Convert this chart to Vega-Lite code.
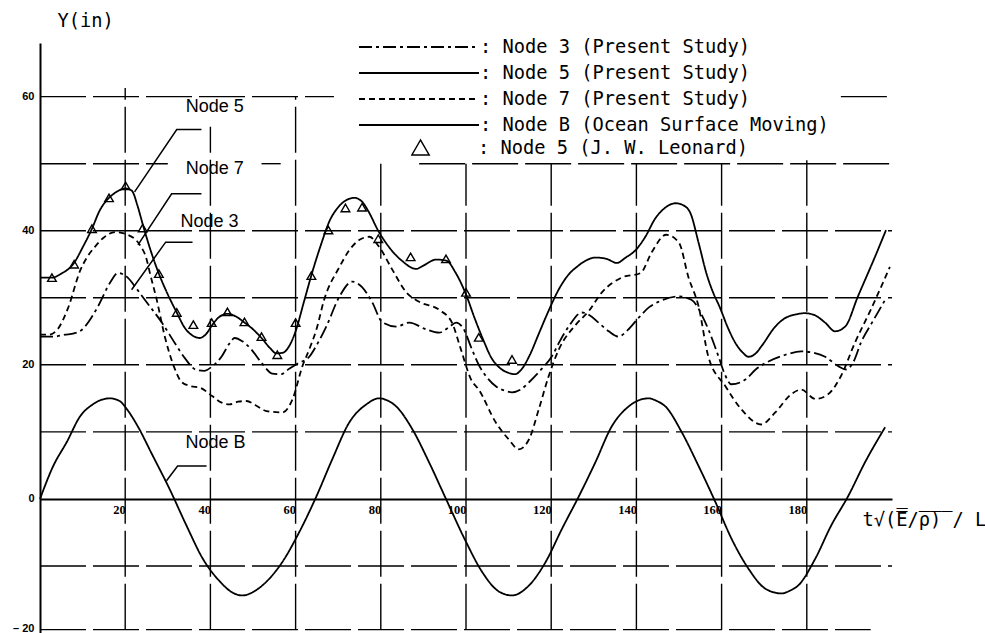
{
  "$schema": "https://vega.github.io/schema/vega-lite/v6.json",
  "width": 852,
  "height": 590,
  "autosize": {"type": "none"},
  "padding": {"left": 40, "top": 43, "right": 93, "bottom": 0},
  "background": "white",
  "config": {"view": {"stroke": null}, "axis": {"labelColor": "black", "titleColor": "black"}},
  "datasets": {
    "hgrid": [
      {"y": 60, "x": 0, "x2": 69},
      {"y": 60, "x": 188, "x2": 200},
      {"y": 50, "x": 0, "x2": 30},
      {"y": 50, "x": 52, "x2": 56.5},
      {"y": 50, "x": 89, "x2": 200},
      {"y": 40, "x": 0, "x2": 200},
      {"y": 30, "x": 0, "x2": 200},
      {"y": 20, "x": 0, "x2": 200},
      {"y": 10, "x": 0, "x2": 200},
      {"y": -10, "x": 0, "x2": 200},
      {"y": -19.5, "x": 0, "x2": 195}
    ],
    "vgrid": [
      {"x": 20, "y": -19.5, "y2": 61.3},
      {"x": 40, "y": -19.5, "y2": 55.5},
      {"x": 60, "y": -19.5, "y2": 60},
      {"x": 80, "y": -19.5, "y2": 50},
      {"x": 100, "y": -19.5, "y2": 50},
      {"x": 120, "y": -19.5, "y2": 50},
      {"x": 140, "y": -19.5, "y2": 50},
      {"x": 160, "y": -19.5, "y2": 50},
      {"x": 180, "y": -19.5, "y2": 50.5}
    ],
    "curves": [
      {"series": "Node 3 (Present Study)", "x": 0, "y": 24.2},
      {"series": "Node 3 (Present Study)", "x": 3, "y": 24.2},
      {"series": "Node 3 (Present Study)", "x": 5.9, "y": 24.5},
      {"series": "Node 3 (Present Study)", "x": 8, "y": 24.7},
      {"series": "Node 3 (Present Study)", "x": 9.8, "y": 25.2},
      {"series": "Node 3 (Present Study)", "x": 11.5, "y": 26.5},
      {"series": "Node 3 (Present Study)", "x": 13.6, "y": 28.7},
      {"series": "Node 3 (Present Study)", "x": 16.4, "y": 32.2},
      {"series": "Node 3 (Present Study)", "x": 18.3, "y": 33.7},
      {"series": "Node 3 (Present Study)", "x": 20.6, "y": 33},
      {"series": "Node 3 (Present Study)", "x": 22.5, "y": 31.5},
      {"series": "Node 3 (Present Study)", "x": 24.6, "y": 29.7},
      {"series": "Node 3 (Present Study)", "x": 28.6, "y": 26.3},
      {"series": "Node 3 (Present Study)", "x": 31.6, "y": 23.3},
      {"series": "Node 3 (Present Study)", "x": 34, "y": 21},
      {"series": "Node 3 (Present Study)", "x": 36.5, "y": 19.3},
      {"series": "Node 3 (Present Study)", "x": 38.5, "y": 19.1},
      {"series": "Node 3 (Present Study)", "x": 40.5, "y": 19.8},
      {"series": "Node 3 (Present Study)", "x": 42.6, "y": 21.2},
      {"series": "Node 3 (Present Study)", "x": 44.5, "y": 23.2},
      {"series": "Node 3 (Present Study)", "x": 45.7, "y": 24},
      {"series": "Node 3 (Present Study)", "x": 47.5, "y": 23.5},
      {"series": "Node 3 (Present Study)", "x": 49.6, "y": 22.3},
      {"series": "Node 3 (Present Study)", "x": 52, "y": 20.3},
      {"series": "Node 3 (Present Study)", "x": 54.5, "y": 18.7},
      {"series": "Node 3 (Present Study)", "x": 56.5, "y": 18.6},
      {"series": "Node 3 (Present Study)", "x": 58.5, "y": 19.4},
      {"series": "Node 3 (Present Study)", "x": 60.5, "y": 20.2},
      {"series": "Node 3 (Present Study)", "x": 63.2, "y": 21.2},
      {"series": "Node 3 (Present Study)", "x": 65, "y": 23},
      {"series": "Node 3 (Present Study)", "x": 67.2, "y": 25.7},
      {"series": "Node 3 (Present Study)", "x": 70.3, "y": 30.2},
      {"series": "Node 3 (Present Study)", "x": 73.3, "y": 32.4},
      {"series": "Node 3 (Present Study)", "x": 75.6, "y": 31.6},
      {"series": "Node 3 (Present Study)", "x": 78, "y": 29.3},
      {"series": "Node 3 (Present Study)", "x": 80.3, "y": 26.4},
      {"series": "Node 3 (Present Study)", "x": 83.6, "y": 25.7},
      {"series": "Node 3 (Present Study)", "x": 86.7, "y": 26.3},
      {"series": "Node 3 (Present Study)", "x": 90.6, "y": 25.3},
      {"series": "Node 3 (Present Study)", "x": 93.7, "y": 24.8},
      {"series": "Node 3 (Present Study)", "x": 96, "y": 25.6},
      {"series": "Node 3 (Present Study)", "x": 97.7, "y": 26.3},
      {"series": "Node 3 (Present Study)", "x": 99.3, "y": 25.5},
      {"series": "Node 3 (Present Study)", "x": 101.4, "y": 22.3},
      {"series": "Node 3 (Present Study)", "x": 103, "y": 20},
      {"series": "Node 3 (Present Study)", "x": 104.7, "y": 18.3},
      {"series": "Node 3 (Present Study)", "x": 107, "y": 16.8},
      {"series": "Node 3 (Present Study)", "x": 109.4, "y": 16.1},
      {"series": "Node 3 (Present Study)", "x": 110.8, "y": 15.9},
      {"series": "Node 3 (Present Study)", "x": 112.8, "y": 16.3},
      {"series": "Node 3 (Present Study)", "x": 114.8, "y": 17.4},
      {"series": "Node 3 (Present Study)", "x": 117.5, "y": 19.2},
      {"series": "Node 3 (Present Study)", "x": 120.1, "y": 21.2},
      {"series": "Node 3 (Present Study)", "x": 122, "y": 23.5},
      {"series": "Node 3 (Present Study)", "x": 124.1, "y": 25.7},
      {"series": "Node 3 (Present Study)", "x": 127.2, "y": 27.8},
      {"series": "Node 3 (Present Study)", "x": 129, "y": 27.4},
      {"series": "Node 3 (Present Study)", "x": 131.1, "y": 26.3},
      {"series": "Node 3 (Present Study)", "x": 133.5, "y": 25},
      {"series": "Node 3 (Present Study)", "x": 135.8, "y": 24.2},
      {"series": "Node 3 (Present Study)", "x": 138, "y": 25.2},
      {"series": "Node 3 (Present Study)", "x": 140.5, "y": 27},
      {"series": "Node 3 (Present Study)", "x": 143, "y": 28.6},
      {"series": "Node 3 (Present Study)", "x": 145.2, "y": 29.4},
      {"series": "Node 3 (Present Study)", "x": 149.9, "y": 30.2},
      {"series": "Node 3 (Present Study)", "x": 152.9, "y": 29.7},
      {"series": "Node 3 (Present Study)", "x": 156.2, "y": 26.3},
      {"series": "Node 3 (Present Study)", "x": 159.3, "y": 21.2},
      {"series": "Node 3 (Present Study)", "x": 160.8, "y": 18.5},
      {"series": "Node 3 (Present Study)", "x": 162.3, "y": 17.1},
      {"series": "Node 3 (Present Study)", "x": 165.6, "y": 17.8},
      {"series": "Node 3 (Present Study)", "x": 168, "y": 19.3},
      {"series": "Node 3 (Present Study)", "x": 171, "y": 20.5},
      {"series": "Node 3 (Present Study)", "x": 175, "y": 21.5},
      {"series": "Node 3 (Present Study)", "x": 178.7, "y": 22},
      {"series": "Node 3 (Present Study)", "x": 181.5, "y": 21.8},
      {"series": "Node 3 (Present Study)", "x": 184.3, "y": 21.2},
      {"series": "Node 3 (Present Study)", "x": 187.4, "y": 19.8},
      {"series": "Node 3 (Present Study)", "x": 189.2, "y": 19.3},
      {"series": "Node 3 (Present Study)", "x": 191, "y": 20.5},
      {"series": "Node 3 (Present Study)", "x": 192.7, "y": 23.3},
      {"series": "Node 3 (Present Study)", "x": 195.5, "y": 26.5},
      {"series": "Node 3 (Present Study)", "x": 198.4, "y": 29.7},

      {"series": "Node 5 (Present Study)", "x": 0, "y": 33},
      {"series": "Node 5 (Present Study)", "x": 2.8, "y": 33},
      {"series": "Node 5 (Present Study)", "x": 5, "y": 33.6},
      {"series": "Node 5 (Present Study)", "x": 8, "y": 35.2},
      {"series": "Node 5 (Present Study)", "x": 10, "y": 37.5},
      {"series": "Node 5 (Present Study)", "x": 12.2, "y": 40.3},
      {"series": "Node 5 (Present Study)", "x": 14, "y": 43},
      {"series": "Node 5 (Present Study)", "x": 16.2, "y": 44.9},
      {"series": "Node 5 (Present Study)", "x": 18, "y": 45.8},
      {"series": "Node 5 (Present Study)", "x": 20, "y": 46.3},
      {"series": "Node 5 (Present Study)", "x": 21.5, "y": 46},
      {"series": "Node 5 (Present Study)", "x": 23, "y": 43.5},
      {"series": "Node 5 (Present Study)", "x": 24.1, "y": 41},
      {"series": "Node 5 (Present Study)", "x": 26, "y": 37},
      {"series": "Node 5 (Present Study)", "x": 27.9, "y": 33.6},
      {"series": "Node 5 (Present Study)", "x": 30, "y": 30.5},
      {"series": "Node 5 (Present Study)", "x": 32.1, "y": 27.8},
      {"series": "Node 5 (Present Study)", "x": 34, "y": 25.5},
      {"series": "Node 5 (Present Study)", "x": 36, "y": 24.3},
      {"series": "Node 5 (Present Study)", "x": 37.5, "y": 24},
      {"series": "Node 5 (Present Study)", "x": 39, "y": 24.6},
      {"series": "Node 5 (Present Study)", "x": 40.5, "y": 26},
      {"series": "Node 5 (Present Study)", "x": 42, "y": 27.1},
      {"series": "Node 5 (Present Study)", "x": 44, "y": 27.6},
      {"series": "Node 5 (Present Study)", "x": 46, "y": 27.2},
      {"series": "Node 5 (Present Study)", "x": 48, "y": 26.3},
      {"series": "Node 5 (Present Study)", "x": 50, "y": 25.3},
      {"series": "Node 5 (Present Study)", "x": 52, "y": 24},
      {"series": "Node 5 (Present Study)", "x": 54, "y": 22.5},
      {"series": "Node 5 (Present Study)", "x": 55.5, "y": 21.7},
      {"series": "Node 5 (Present Study)", "x": 57, "y": 21.8},
      {"series": "Node 5 (Present Study)", "x": 58.5, "y": 22.8},
      {"series": "Node 5 (Present Study)", "x": 60, "y": 25},
      {"series": "Node 5 (Present Study)", "x": 62, "y": 29.5},
      {"series": "Node 5 (Present Study)", "x": 64, "y": 34},
      {"series": "Node 5 (Present Study)", "x": 66, "y": 38},
      {"series": "Node 5 (Present Study)", "x": 68, "y": 41.5},
      {"series": "Node 5 (Present Study)", "x": 70, "y": 43.5},
      {"series": "Node 5 (Present Study)", "x": 72, "y": 44.6},
      {"series": "Node 5 (Present Study)", "x": 73.8, "y": 44.9},
      {"series": "Node 5 (Present Study)", "x": 75.5, "y": 44.4},
      {"series": "Node 5 (Present Study)", "x": 77, "y": 43},
      {"series": "Node 5 (Present Study)", "x": 79.4, "y": 40},
      {"series": "Node 5 (Present Study)", "x": 82, "y": 37.5},
      {"series": "Node 5 (Present Study)", "x": 85, "y": 35.5},
      {"series": "Node 5 (Present Study)", "x": 88.3, "y": 34.3},
      {"series": "Node 5 (Present Study)", "x": 90, "y": 34.8},
      {"series": "Node 5 (Present Study)", "x": 93, "y": 35.7},
      {"series": "Node 5 (Present Study)", "x": 95.5, "y": 35.5},
      {"series": "Node 5 (Present Study)", "x": 97.5, "y": 33.8},
      {"series": "Node 5 (Present Study)", "x": 100, "y": 30.5},
      {"series": "Node 5 (Present Study)", "x": 102, "y": 27},
      {"series": "Node 5 (Present Study)", "x": 104, "y": 23.8},
      {"series": "Node 5 (Present Study)", "x": 106, "y": 21},
      {"series": "Node 5 (Present Study)", "x": 108, "y": 19.5},
      {"series": "Node 5 (Present Study)", "x": 110, "y": 18.8},
      {"series": "Node 5 (Present Study)", "x": 111.5, "y": 18.6},
      {"series": "Node 5 (Present Study)", "x": 113, "y": 19.3},
      {"series": "Node 5 (Present Study)", "x": 115, "y": 21.5},
      {"series": "Node 5 (Present Study)", "x": 117, "y": 24.5},
      {"series": "Node 5 (Present Study)", "x": 119, "y": 27.5},
      {"series": "Node 5 (Present Study)", "x": 122, "y": 31.5},
      {"series": "Node 5 (Present Study)", "x": 124, "y": 33.4},
      {"series": "Node 5 (Present Study)", "x": 126, "y": 34.6},
      {"series": "Node 5 (Present Study)", "x": 128, "y": 35.5},
      {"series": "Node 5 (Present Study)", "x": 130.4, "y": 36},
      {"series": "Node 5 (Present Study)", "x": 133, "y": 35.8},
      {"series": "Node 5 (Present Study)", "x": 135.4, "y": 35.2},
      {"series": "Node 5 (Present Study)", "x": 137.5, "y": 36},
      {"series": "Node 5 (Present Study)", "x": 139.8, "y": 37.1},
      {"series": "Node 5 (Present Study)", "x": 142, "y": 39},
      {"series": "Node 5 (Present Study)", "x": 144.5, "y": 41.9},
      {"series": "Node 5 (Present Study)", "x": 146.5, "y": 43.3},
      {"series": "Node 5 (Present Study)", "x": 149.2, "y": 44.1},
      {"series": "Node 5 (Present Study)", "x": 151, "y": 43.8},
      {"series": "Node 5 (Present Study)", "x": 152.7, "y": 42.6},
      {"series": "Node 5 (Present Study)", "x": 154.6, "y": 38.2},
      {"series": "Node 5 (Present Study)", "x": 156.5, "y": 33.5},
      {"series": "Node 5 (Present Study)", "x": 158, "y": 30.8},
      {"series": "Node 5 (Present Study)", "x": 159.5, "y": 28.7},
      {"series": "Node 5 (Present Study)", "x": 161.5, "y": 25.5},
      {"series": "Node 5 (Present Study)", "x": 163.2, "y": 23.3},
      {"series": "Node 5 (Present Study)", "x": 165, "y": 21.8},
      {"series": "Node 5 (Present Study)", "x": 166.3, "y": 21.2},
      {"series": "Node 5 (Present Study)", "x": 168, "y": 21.7},
      {"series": "Node 5 (Present Study)", "x": 169.5, "y": 22.9},
      {"series": "Node 5 (Present Study)", "x": 172.6, "y": 25.7},
      {"series": "Node 5 (Present Study)", "x": 175, "y": 27},
      {"series": "Node 5 (Present Study)", "x": 177.3, "y": 27.5},
      {"series": "Node 5 (Present Study)", "x": 179.5, "y": 27.7},
      {"series": "Node 5 (Present Study)", "x": 181.5, "y": 27.5},
      {"series": "Node 5 (Present Study)", "x": 184.3, "y": 26.3},
      {"series": "Node 5 (Present Study)", "x": 186.6, "y": 25},
      {"series": "Node 5 (Present Study)", "x": 189, "y": 25.7},
      {"series": "Node 5 (Present Study)", "x": 192, "y": 30.2},
      {"series": "Node 5 (Present Study)", "x": 196, "y": 36.1},
      {"series": "Node 5 (Present Study)", "x": 198.6, "y": 40.1},

      {"series": "Node 7 (Present Study)", "x": 0, "y": 24.5},
      {"series": "Node 7 (Present Study)", "x": 2, "y": 24.5},
      {"series": "Node 7 (Present Study)", "x": 4, "y": 25.2},
      {"series": "Node 7 (Present Study)", "x": 6.6, "y": 28.5},
      {"series": "Node 7 (Present Study)", "x": 9.4, "y": 34},
      {"series": "Node 7 (Present Study)", "x": 11, "y": 36},
      {"series": "Node 7 (Present Study)", "x": 12.9, "y": 37.6},
      {"series": "Node 7 (Present Study)", "x": 15, "y": 39},
      {"series": "Node 7 (Present Study)", "x": 17.6, "y": 39.8},
      {"series": "Node 7 (Present Study)", "x": 20.6, "y": 39.4},
      {"series": "Node 7 (Present Study)", "x": 23.4, "y": 37.9},
      {"series": "Node 7 (Present Study)", "x": 25, "y": 35.8},
      {"series": "Node 7 (Present Study)", "x": 25.8, "y": 33.7},
      {"series": "Node 7 (Present Study)", "x": 27.4, "y": 29.7},
      {"series": "Node 7 (Present Study)", "x": 29.3, "y": 24.2},
      {"series": "Node 7 (Present Study)", "x": 31.4, "y": 19.8},
      {"series": "Node 7 (Present Study)", "x": 33.3, "y": 17.4},
      {"series": "Node 7 (Present Study)", "x": 35.5, "y": 16.8},
      {"series": "Node 7 (Present Study)", "x": 37.5, "y": 16.6},
      {"series": "Node 7 (Present Study)", "x": 40.5, "y": 15.3},
      {"series": "Node 7 (Present Study)", "x": 42.5, "y": 14.4},
      {"series": "Node 7 (Present Study)", "x": 44.5, "y": 14.1},
      {"series": "Node 7 (Present Study)", "x": 46.5, "y": 14.5},
      {"series": "Node 7 (Present Study)", "x": 48.5, "y": 14.6},
      {"series": "Node 7 (Present Study)", "x": 50.5, "y": 14},
      {"series": "Node 7 (Present Study)", "x": 53.2, "y": 13.1},
      {"series": "Node 7 (Present Study)", "x": 56.9, "y": 12.9},
      {"series": "Node 7 (Present Study)", "x": 59.3, "y": 14.9},
      {"series": "Node 7 (Present Study)", "x": 61.6, "y": 19.8},
      {"series": "Node 7 (Present Study)", "x": 63.2, "y": 22.3},
      {"series": "Node 7 (Present Study)", "x": 64.9, "y": 25.3},
      {"series": "Node 7 (Present Study)", "x": 66.7, "y": 29.7},
      {"series": "Node 7 (Present Study)", "x": 70.3, "y": 34.6},
      {"series": "Node 7 (Present Study)", "x": 72.5, "y": 37},
      {"series": "Node 7 (Present Study)", "x": 74.9, "y": 38.6},
      {"series": "Node 7 (Present Study)", "x": 77.3, "y": 39.1},
      {"series": "Node 7 (Present Study)", "x": 79.6, "y": 37.6},
      {"series": "Node 7 (Present Study)", "x": 82.7, "y": 34.2},
      {"series": "Node 7 (Present Study)", "x": 86, "y": 30.8},
      {"series": "Node 7 (Present Study)", "x": 89, "y": 29.4},
      {"series": "Node 7 (Present Study)", "x": 93.7, "y": 28.2},
      {"series": "Node 7 (Present Study)", "x": 96.7, "y": 26.3},
      {"series": "Node 7 (Present Study)", "x": 98.8, "y": 22.3},
      {"series": "Node 7 (Present Study)", "x": 101.2, "y": 17.8},
      {"series": "Node 7 (Present Study)", "x": 103, "y": 16.3},
      {"series": "Node 7 (Present Study)", "x": 107, "y": 11.4},
      {"series": "Node 7 (Present Study)", "x": 110, "y": 8.9},
      {"series": "Node 7 (Present Study)", "x": 112.4, "y": 7.4},
      {"series": "Node 7 (Present Study)", "x": 114.8, "y": 8.9},
      {"series": "Node 7 (Present Study)", "x": 117.1, "y": 13.4},
      {"series": "Node 7 (Present Study)", "x": 119.4, "y": 18.3},
      {"series": "Node 7 (Present Study)", "x": 121.8, "y": 22.3},
      {"series": "Node 7 (Present Study)", "x": 125.8, "y": 26},
      {"series": "Node 7 (Present Study)", "x": 128.8, "y": 28},
      {"series": "Node 7 (Present Study)", "x": 131.9, "y": 30.8},
      {"series": "Node 7 (Present Study)", "x": 136.5, "y": 33},
      {"series": "Node 7 (Present Study)", "x": 141, "y": 33.7},
      {"series": "Node 7 (Present Study)", "x": 143.6, "y": 36.8},
      {"series": "Node 7 (Present Study)", "x": 147, "y": 39.4},
      {"series": "Node 7 (Present Study)", "x": 150, "y": 38.2},
      {"series": "Node 7 (Present Study)", "x": 152.2, "y": 33.1},
      {"series": "Node 7 (Present Study)", "x": 154.6, "y": 28.7},
      {"series": "Node 7 (Present Study)", "x": 156.9, "y": 21.2},
      {"series": "Node 7 (Present Study)", "x": 160.9, "y": 16.8},
      {"series": "Node 7 (Present Study)", "x": 164.6, "y": 13.4},
      {"series": "Node 7 (Present Study)", "x": 169.3, "y": 11.1},
      {"series": "Node 7 (Present Study)", "x": 172.6, "y": 12.9},
      {"series": "Node 7 (Present Study)", "x": 176.3, "y": 15.6},
      {"series": "Node 7 (Present Study)", "x": 178.7, "y": 16.3},
      {"series": "Node 7 (Present Study)", "x": 182, "y": 14.9},
      {"series": "Node 7 (Present Study)", "x": 185, "y": 15.6},
      {"series": "Node 7 (Present Study)", "x": 188, "y": 18.3},
      {"series": "Node 7 (Present Study)", "x": 191.3, "y": 23.3},
      {"series": "Node 7 (Present Study)", "x": 195, "y": 28.2},
      {"series": "Node 7 (Present Study)", "x": 199.5, "y": 34.6},

      {"series": "Node B (Ocean Surface Moving)", "x": 0, "y": 0},
      {"series": "Node B (Ocean Surface Moving)", "x": 3.1, "y": 4.9},
      {"series": "Node B (Ocean Surface Moving)", "x": 6.3, "y": 8.5},
      {"series": "Node B (Ocean Surface Moving)", "x": 9.4, "y": 12.3},
      {"series": "Node B (Ocean Surface Moving)", "x": 12.4, "y": 14.1},
      {"series": "Node B (Ocean Surface Moving)", "x": 14.5, "y": 14.8},
      {"series": "Node B (Ocean Surface Moving)", "x": 16.4, "y": 15},
      {"series": "Node B (Ocean Surface Moving)", "x": 18.7, "y": 14.6},
      {"series": "Node B (Ocean Surface Moving)", "x": 20.5, "y": 13.3},
      {"series": "Node B (Ocean Surface Moving)", "x": 22.7, "y": 11.1},
      {"series": "Node B (Ocean Surface Moving)", "x": 26.5, "y": 6.4},
      {"series": "Node B (Ocean Surface Moving)", "x": 30.4, "y": 1.5},
      {"series": "Node B (Ocean Surface Moving)", "x": 34.4, "y": -4},
      {"series": "Node B (Ocean Surface Moving)", "x": 38.2, "y": -8.9},
      {"series": "Node B (Ocean Surface Moving)", "x": 42.2, "y": -12.3},
      {"series": "Node B (Ocean Surface Moving)", "x": 45, "y": -13.9},
      {"series": "Node B (Ocean Surface Moving)", "x": 47.5, "y": -14.4},
      {"series": "Node B (Ocean Surface Moving)", "x": 50, "y": -13.9},
      {"series": "Node B (Ocean Surface Moving)", "x": 52.2, "y": -12.9},
      {"series": "Node B (Ocean Surface Moving)", "x": 56.9, "y": -9.4},
      {"series": "Node B (Ocean Surface Moving)", "x": 60.9, "y": -4.9},
      {"series": "Node B (Ocean Surface Moving)", "x": 64.9, "y": 0.4},
      {"series": "Node B (Ocean Surface Moving)", "x": 68.6, "y": 5.9},
      {"series": "Node B (Ocean Surface Moving)", "x": 72.6, "y": 11.4},
      {"series": "Node B (Ocean Surface Moving)", "x": 76.6, "y": 14.1},
      {"series": "Node B (Ocean Surface Moving)", "x": 79.6, "y": 15},
      {"series": "Node B (Ocean Surface Moving)", "x": 81.5, "y": 14.7},
      {"series": "Node B (Ocean Surface Moving)", "x": 83.6, "y": 13.8},
      {"series": "Node B (Ocean Surface Moving)", "x": 87.4, "y": 10.4},
      {"series": "Node B (Ocean Surface Moving)", "x": 91.3, "y": 5.5},
      {"series": "Node B (Ocean Surface Moving)", "x": 95.3, "y": 0},
      {"series": "Node B (Ocean Surface Moving)", "x": 100, "y": -6.4},
      {"series": "Node B (Ocean Surface Moving)", "x": 103.7, "y": -10.8},
      {"series": "Node B (Ocean Surface Moving)", "x": 107.7, "y": -13.8},
      {"series": "Node B (Ocean Surface Moving)", "x": 110.8, "y": -14.4},
      {"series": "Node B (Ocean Surface Moving)", "x": 114.8, "y": -12.9},
      {"series": "Node B (Ocean Surface Moving)", "x": 118.7, "y": -9.4},
      {"series": "Node B (Ocean Surface Moving)", "x": 122.5, "y": -4.5},
      {"series": "Node B (Ocean Surface Moving)", "x": 126.5, "y": 0.4},
      {"series": "Node B (Ocean Surface Moving)", "x": 130.4, "y": 5.5},
      {"series": "Node B (Ocean Surface Moving)", "x": 134.2, "y": 10.8},
      {"series": "Node B (Ocean Surface Moving)", "x": 138.2, "y": 13.8},
      {"series": "Node B (Ocean Surface Moving)", "x": 140.5, "y": 14.7},
      {"series": "Node B (Ocean Surface Moving)", "x": 142.9, "y": 15},
      {"series": "Node B (Ocean Surface Moving)", "x": 144.8, "y": 14.6},
      {"series": "Node B (Ocean Surface Moving)", "x": 146.8, "y": 13.8},
      {"series": "Node B (Ocean Surface Moving)", "x": 150.6, "y": 10},
      {"series": "Node B (Ocean Surface Moving)", "x": 154.6, "y": 4.9},
      {"series": "Node B (Ocean Surface Moving)", "x": 158.5, "y": -0.4},
      {"series": "Node B (Ocean Surface Moving)", "x": 162.3, "y": -5.9},
      {"series": "Node B (Ocean Surface Moving)", "x": 166.3, "y": -10.4},
      {"series": "Node B (Ocean Surface Moving)", "x": 170.3, "y": -13.4},
      {"series": "Node B (Ocean Surface Moving)", "x": 174, "y": -14.1},
      {"series": "Node B (Ocean Surface Moving)", "x": 176, "y": -13.7},
      {"series": "Node B (Ocean Surface Moving)", "x": 178, "y": -12.9},
      {"series": "Node B (Ocean Surface Moving)", "x": 182, "y": -8.9},
      {"series": "Node B (Ocean Surface Moving)", "x": 185.7, "y": -4},
      {"series": "Node B (Ocean Surface Moving)", "x": 189.7, "y": 0.4},
      {"series": "Node B (Ocean Surface Moving)", "x": 193.7, "y": 5.5},
      {"series": "Node B (Ocean Surface Moving)", "x": 198.4, "y": 10.7}
    ],
    "leonard": [
      {"src": "Node 5 (J. W. Leonard)", "x": 2.8, "y": 33},
      {"src": "Node 5 (J. W. Leonard)", "x": 8, "y": 35},
      {"src": "Node 5 (J. W. Leonard)", "x": 12.2, "y": 40.3},
      {"src": "Node 5 (J. W. Leonard)", "x": 16.2, "y": 44.9},
      {"src": "Node 5 (J. W. Leonard)", "x": 20.1, "y": 46.7},
      {"src": "Node 5 (J. W. Leonard)", "x": 24.1, "y": 40.4},
      {"src": "Node 5 (J. W. Leonard)", "x": 27.9, "y": 33.6},
      {"src": "Node 5 (J. W. Leonard)", "x": 32.1, "y": 27.8},
      {"src": "Node 5 (J. W. Leonard)", "x": 36, "y": 26},
      {"src": "Node 5 (J. W. Leonard)", "x": 40.3, "y": 26.3},
      {"src": "Node 5 (J. W. Leonard)", "x": 44, "y": 27.9},
      {"src": "Node 5 (J. W. Leonard)", "x": 48, "y": 26.4},
      {"src": "Node 5 (J. W. Leonard)", "x": 52, "y": 24.2},
      {"src": "Node 5 (J. W. Leonard)", "x": 55.7, "y": 21.5},
      {"src": "Node 5 (J. W. Leonard)", "x": 60, "y": 26.3},
      {"src": "Node 5 (J. W. Leonard)", "x": 63.7, "y": 33.3},
      {"src": "Node 5 (J. W. Leonard)", "x": 67.7, "y": 40.1},
      {"src": "Node 5 (J. W. Leonard)", "x": 71.7, "y": 43.4},
      {"src": "Node 5 (J. W. Leonard)", "x": 75.6, "y": 43.5},
      {"src": "Node 5 (J. W. Leonard)", "x": 79.4, "y": 38.8},
      {"src": "Node 5 (J. W. Leonard)", "x": 87, "y": 36.1},
      {"src": "Node 5 (J. W. Leonard)", "x": 95.3, "y": 35.8},
      {"src": "Node 5 (J. W. Leonard)", "x": 100, "y": 30.8},
      {"src": "Node 5 (J. W. Leonard)", "x": 103, "y": 24.1},
      {"src": "Node 5 (J. W. Leonard)", "x": 110.8, "y": 20.8}
    ],
    "leaders": [
      {"label": "Node 5", "o": 1, "x": 37.9, "y": 55.1},
      {"label": "Node 5", "o": 2, "x": 32.1, "y": 55.1},
      {"label": "Node 5", "o": 3, "x": 22.2, "y": 45.8},
      {"label": "Node 7", "o": 1, "x": 37.9, "y": 45.5},
      {"label": "Node 7", "o": 2, "x": 30.9, "y": 45.5},
      {"label": "Node 7", "o": 3, "x": 23, "y": 37.9},
      {"label": "Node 3", "o": 1, "x": 35.8, "y": 38.3},
      {"label": "Node 3", "o": 2, "x": 29.5, "y": 38.3},
      {"label": "Node 3", "o": 3, "x": 21.5, "y": 31.2},
      {"label": "Node B", "o": 1, "x": 39.1, "y": 4.9},
      {"label": "Node B", "o": 2, "x": 32.3, "y": 4.9},
      {"label": "Node B", "o": 3, "x": 29.7, "y": 2.7}
    ],
    "labels": [
      {"label": "Node  5", "x": 41, "y": 58.4},
      {"label": "Node  7", "x": 41, "y": 49.2},
      {"label": "Node  3", "x": 39.8, "y": 41.3},
      {"label": "Node  B", "x": 41.2, "y": 8.3}
    ]
  },
  "encoding": {
    "x": {
      "field": "x", "type": "quantitative",
      "scale": {"domain": [0, 200], "nice": false, "zero": false},
      "axis": {
        "title": "t√(̅E̅/̅ρ̅)̅ / L",
        "orient": "bottom", "offset": -134.1,
        "values": [20, 40, 60, 80, 100, 120, 140, 160, 180],
        "grid": false, "ticks": false,
        "domainColor": "black", "domainWidth": 2,
        "labelAlign": "right", "labelBaseline": "top", "labelDx": -6, "labelPadding": 5,
        "labelFont": "Liberation Serif", "labelFontWeight": "bold", "labelFontSize": 12.5,
        "labelFlush": false, "labelOverlap": false,
        "titleFont": "DejaVu Sans Mono", "titleFontSize": 18.7, "titleFontWeight": "normal",
        "titleAnchor": "start", "titleAlign": "left", "titleBaseline": "middle",
        "titleX": 822, "titleY": 21
      }
    },
    "y": {
      "field": "y", "type": "quantitative",
      "scale": {"domain": [-20, 68], "nice": false, "zero": false},
      "axis": {
        "title": "Y(in)",
        "values": [-20, 0, 20, 40, 60],
        "labelExpr": "datum.value < 0 ? '– 20' : datum.label",
        "grid": false, "ticks": false,
        "domainColor": "black", "domainWidth": 2,
        "labelPadding": 6,
        "labelBaseline": {"condition": {"test": "datum.value < 0", "value": "bottom"}, "value": "middle"},
        "labelFont": "Liberation Sans", "labelFontWeight": "bold", "labelFontSize": 11,
        "titleFont": "DejaVu Sans Mono", "titleFontSize": 18.7, "titleFontWeight": "normal",
        "titleAngle": 0, "titleAlign": "center", "titleBaseline": "middle",
        "titleX": 45, "titleY": -23
      }
    }
  },
  "layer": [
    {
      "data": {"name": "hgrid"},
      "mark": {"type": "rule", "color": "black", "strokeWidth": 1.4, "strokeDash": [46, 7]},
      "encoding": {"x2": {"field": "x2"}}
    },
    {
      "data": {"name": "vgrid"},
      "mark": {"type": "rule", "color": "black", "strokeWidth": 1.4, "strokeDash": [46, 7]},
      "encoding": {"y2": {"field": "y2"}}
    },
    {
      "data": {"name": "curves"},
      "mark": {"type": "line", "color": "black", "strokeWidth": 1.8, "interpolate": "monotone"},
      "encoding": {
        "strokeDash": {
          "field": "series", "type": "nominal",
          "scale": {
            "domain": ["Node 3 (Present Study)", "Node 5 (Present Study)", "Node 7 (Present Study)", "Node B (Ocean Surface Moving)"],
            "range": [[13, 4, 3, 4], [1, 0], [6, 4], [1, 0]]
          },
          "legend": {
            "orient": "none", "legendX": 318, "legendY": -5.5, "title": null, "padding": 0,
            "symbolType": "stroke", "symbolSize": 14400, "symbolStrokeWidth": 2, "symbolStrokeColor": "black",
            "clipHeight": 19, "rowPadding": 6,
            "labelFont": "DejaVu Sans Mono", "labelFontSize": 18.7, "labelColor": "black",
            "labelExpr": "': ' + datum.label", "labelOffset": 0, "labelLimit": 0
          }
        }
      }
    },
    {
      "data": {"name": "leonard"},
      "mark": {"type": "point", "filled": false, "color": "black", "size": 75, "strokeWidth": 1.4, "opacity": 1},
      "encoding": {
        "shape": {
          "field": "src", "type": "nominal",
          "scale": {"range": ["triangle-up"]},
          "legend": {
            "orient": "none", "legendX": 371, "legendY": 95, "title": null, "padding": 0,
            "symbolSize": 300, "symbolStrokeWidth": 1.5, "symbolStrokeColor": "black", "symbolFillColor": "transparent",
            "clipHeight": 19,
            "labelFont": "DejaVu Sans Mono", "labelFontSize": 18.7, "labelColor": "black",
            "labelExpr": "': ' + datum.label", "labelOffset": 48, "labelLimit": 0
          }
        }
      }
    },
    {
      "data": {"name": "leaders"},
      "mark": {"type": "line", "color": "black", "strokeWidth": 1.5},
      "encoding": {"detail": {"field": "label"}, "order": {"field": "o"}}
    },
    {
      "data": {"name": "labels"},
      "mark": {"type": "text", "font": "Liberation Sans", "fontSize": 18, "color": "black", "align": "center", "baseline": "middle"},
      "encoding": {"text": {"field": "label"}}
    },
    {
      "data": {"values": [{}]},
      "mark": {"type": "point", "filled": true, "color": "black", "opacity": 1, "size": 324, "shape": "M0,-1L0.38,1L-0.38,1Z"},
      "encoding": {"x": {"datum": 0}, "y": {"datum": 66.7}}
    },
    {
      "data": {"values": [{}]},
      "mark": {"type": "point", "filled": true, "color": "black", "opacity": 1, "size": 300, "shape": "M1,0L-1,-0.45L-1,0.45Z"},
      "encoding": {"x": {"datum": 198.2}, "y": {"datum": 0}}
    }
  ]
}
